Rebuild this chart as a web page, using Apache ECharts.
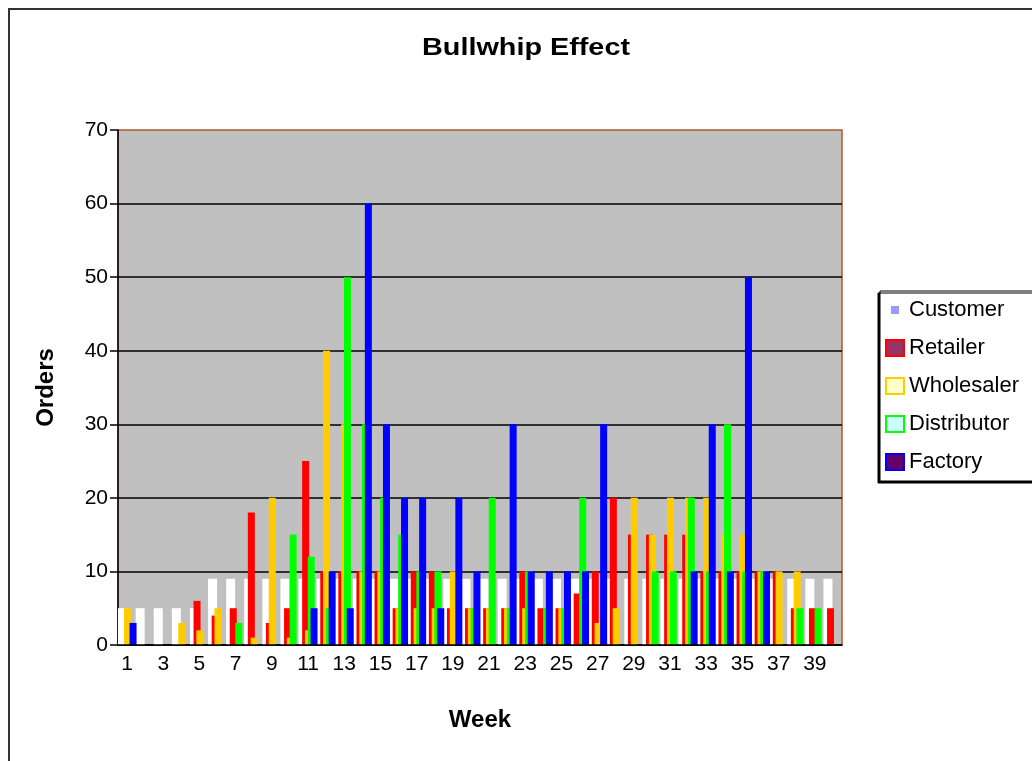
<!DOCTYPE html>
<html>
<head>
<meta charset="utf-8">
<title>Bullwhip Effect</title>
<script src="https://cdn.jsdelivr.net/npm/echarts@6/dist/echarts.min.js"></script>
<style>
    html, body { margin: 0; padding: 0; background: #fff; overflow: hidden; }
    #frame { position: absolute; left: 8px; top: 8px; width: 1100px; height: 800px; border: 2px solid #333; }
    #chart { position: absolute; left: 0; top: 0; width: 1032px; height: 761px; }
</style>
</head>
<body>
<div id="frame"></div>
<div id="chart"></div>
<script>
const weeks = ['1', '2', '3', '4', '5', '6', '7', '8', '9', '10',
    '11', '12', '13', '14', '15', '16', '17', '18', '19', '20',
    '21', '22', '23', '24', '25', '26', '27', '28', '29', '30',
    '31', '32', '33', '34', '35', '36', '37', '38', '39', '40'];

const customer = [5, 5, 5, 5, 5, 9, 9, 9, 9, 9,
    9, 9, 9, 9, 9, 9, 9, 9, 9, 9,
    9, 9, 9, 9, 9, 9, 9, 9, 9, 9,
    9, 9, 9, 9, 9, 9, 9, 9, 9, 9];
const retailer = [0, 0, 0, 0, 6, 4, 5, 18, 3, 5,
    25, 10, 10, 10, 10, 5, 10, 10, 5, 5,
    5, 5, 10, 5, 5, 7, 10, 20, 15, 15,
    15, 15, 10, 10, 10, 10, 10, 5, 5, 5];
const wholesaler = [5, 0, 0, 3, 2, 5, 0, 1, 20, 1,
    2, 40, 30, 10, 10, 5, 5, 5, 10, 5,
    5, 5, 5, 0, 5, 0, 3, 5, 20, 15,
    20, 20, 20, 15, 15, 10, 10, 10, 0, 0];
const distributor = [0, 0, 0, 0, 0, 0, 3, 0, 0, 15,
    12, 5, 50, 30, 20, 15, 10, 10, 0, 5,
    20, 5, 10, 5, 5, 20, 0, 0, 0, 10,
    10, 20, 10, 30, 10, 10, 0, 5, 5, 0];
const factory = [3, 0, 0, 0, 0, 0, 0, 0, 0, 0,
    5, 10, 5, 60, 30, 20, 20, 5, 20, 10,
    0, 30, 10, 10, 10, 10, 30, 0, 0, 0,
    0, 10, 30, 10, 50, 10, 0, 0, 0, 0];

const yTicks = { min: 0, max: 70, step: 10 };

document.addEventListener("DOMContentLoaded", function () {
    const chart = echarts.init(document.querySelector("#chart"));
    const font = "'Liberation Sans', Arial, sans-serif";

    function barSeries(name, data, color, width) {
        return {
            name: name,
            type: 'bar',
            data: data,
            barWidth: width,
            barGap: '-60%',
            itemStyle: { color: color },
            emphasis: { disabled: true }
        };
    }

    const options = {
        animation: false,
        // title drawn as text so it can be widened like the original
        graphic: [{
            type: 'text',
            x: 526,
            y: 48,
            scaleX: 1.2,
            style: {
                text: 'Bullwhip Effect',
                font: "bold 24px 'Liberation Sans', Arial, sans-serif",
                fill: '#000',
                align: 'center',
                verticalAlign: 'middle'
            }
        }],
        legend: {
            orient: 'vertical',
            left: 880,
            top: 291,
            itemWidth: 18,
            itemHeight: 16,
            itemGap: 16,
            padding: [8, 40, 8, 5],
            borderColor: '#000',
            borderWidth: 1,
            backgroundColor: '#fff',
            shadowColor: '#000',
            shadowOffsetX: -2,
            shadowOffsetY: 2,
            textStyle: { fontFamily: font, fontSize: 22, color: '#000' },
            data: [
                { name: 'Customer', icon: 'path://M0,0M18,16M5,4L13,4L13,12L5,12Z', itemStyle: { color: '#9999ff', borderWidth: 0 } },
                { name: 'Retailer', icon: 'rect', itemStyle: { color: '#993366', borderColor: '#ff0000', borderWidth: 2 } },
                { name: 'Wholesaler', icon: 'rect', itemStyle: { color: '#ffffcc', borderColor: '#ffcc00', borderWidth: 2 } },
                { name: 'Distributor', icon: 'rect', itemStyle: { color: '#ccffff', borderColor: '#00ff00', borderWidth: 2 } },
                { name: 'Factory', icon: 'rect', itemStyle: { color: '#660066', borderColor: '#0000ff', borderWidth: 2 } }
            ]
        },
        grid: {
            left: 118,
            top: 130,
            width: 724,
            height: 515,
            show: true,
            backgroundColor: '#c0c0c0',
            borderColor: '#b0582a',
            borderWidth: 1.5
        },
        xAxis: {
            type: 'category',
            data: weeks,
            z: 5,
            name: 'Week',
            nameLocation: 'middle',
            nameGap: 63,
            nameTextStyle: { fontFamily: font, fontSize: 24, fontWeight: 'bold', color: '#000' },
            axisLine: { lineStyle: { color: '#000', width: 1.5 } },
            axisTick: { interval: 1, length: 8, lineStyle: { color: '#000', width: 1.5 } },
            axisLabel: { interval: 1, margin: 9, fontFamily: font, fontSize: 21, color: '#000' },
            splitLine: { show: false }
        },
        yAxis: {
            type: 'value',
            min: yTicks.min,
            max: yTicks.max,
            interval: yTicks.step,
            name: 'Orders',
            nameLocation: 'middle',
            nameGap: 60,
            nameTextStyle: { fontFamily: font, fontSize: 24, fontWeight: 'bold', color: '#000' },
            axisLine: { show: true, lineStyle: { color: '#000', width: 1.5 } },
            axisTick: { show: true, length: 8, lineStyle: { color: '#000', width: 1.5 } },
            axisLabel: { margin: 10, fontFamily: font, fontSize: 21, color: '#000' },
            splitLine: { show: true, showMaxLine: false, lineStyle: { color: '#000', width: 1.5 } }
        },
        series: [
            barSeries('Customer', customer, '#ffffff', 9),
            barSeries('Retailer', retailer, '#ff0000', 7),
            barSeries('Wholesaler', wholesaler, '#ffcc00', 7),
            barSeries('Distributor', distributor, '#00ff00', 7),
            barSeries('Factory', factory, '#0000ff', 7)
        ]
    };
    chart.setOption(options);
});
</script>
</body>
</html>
